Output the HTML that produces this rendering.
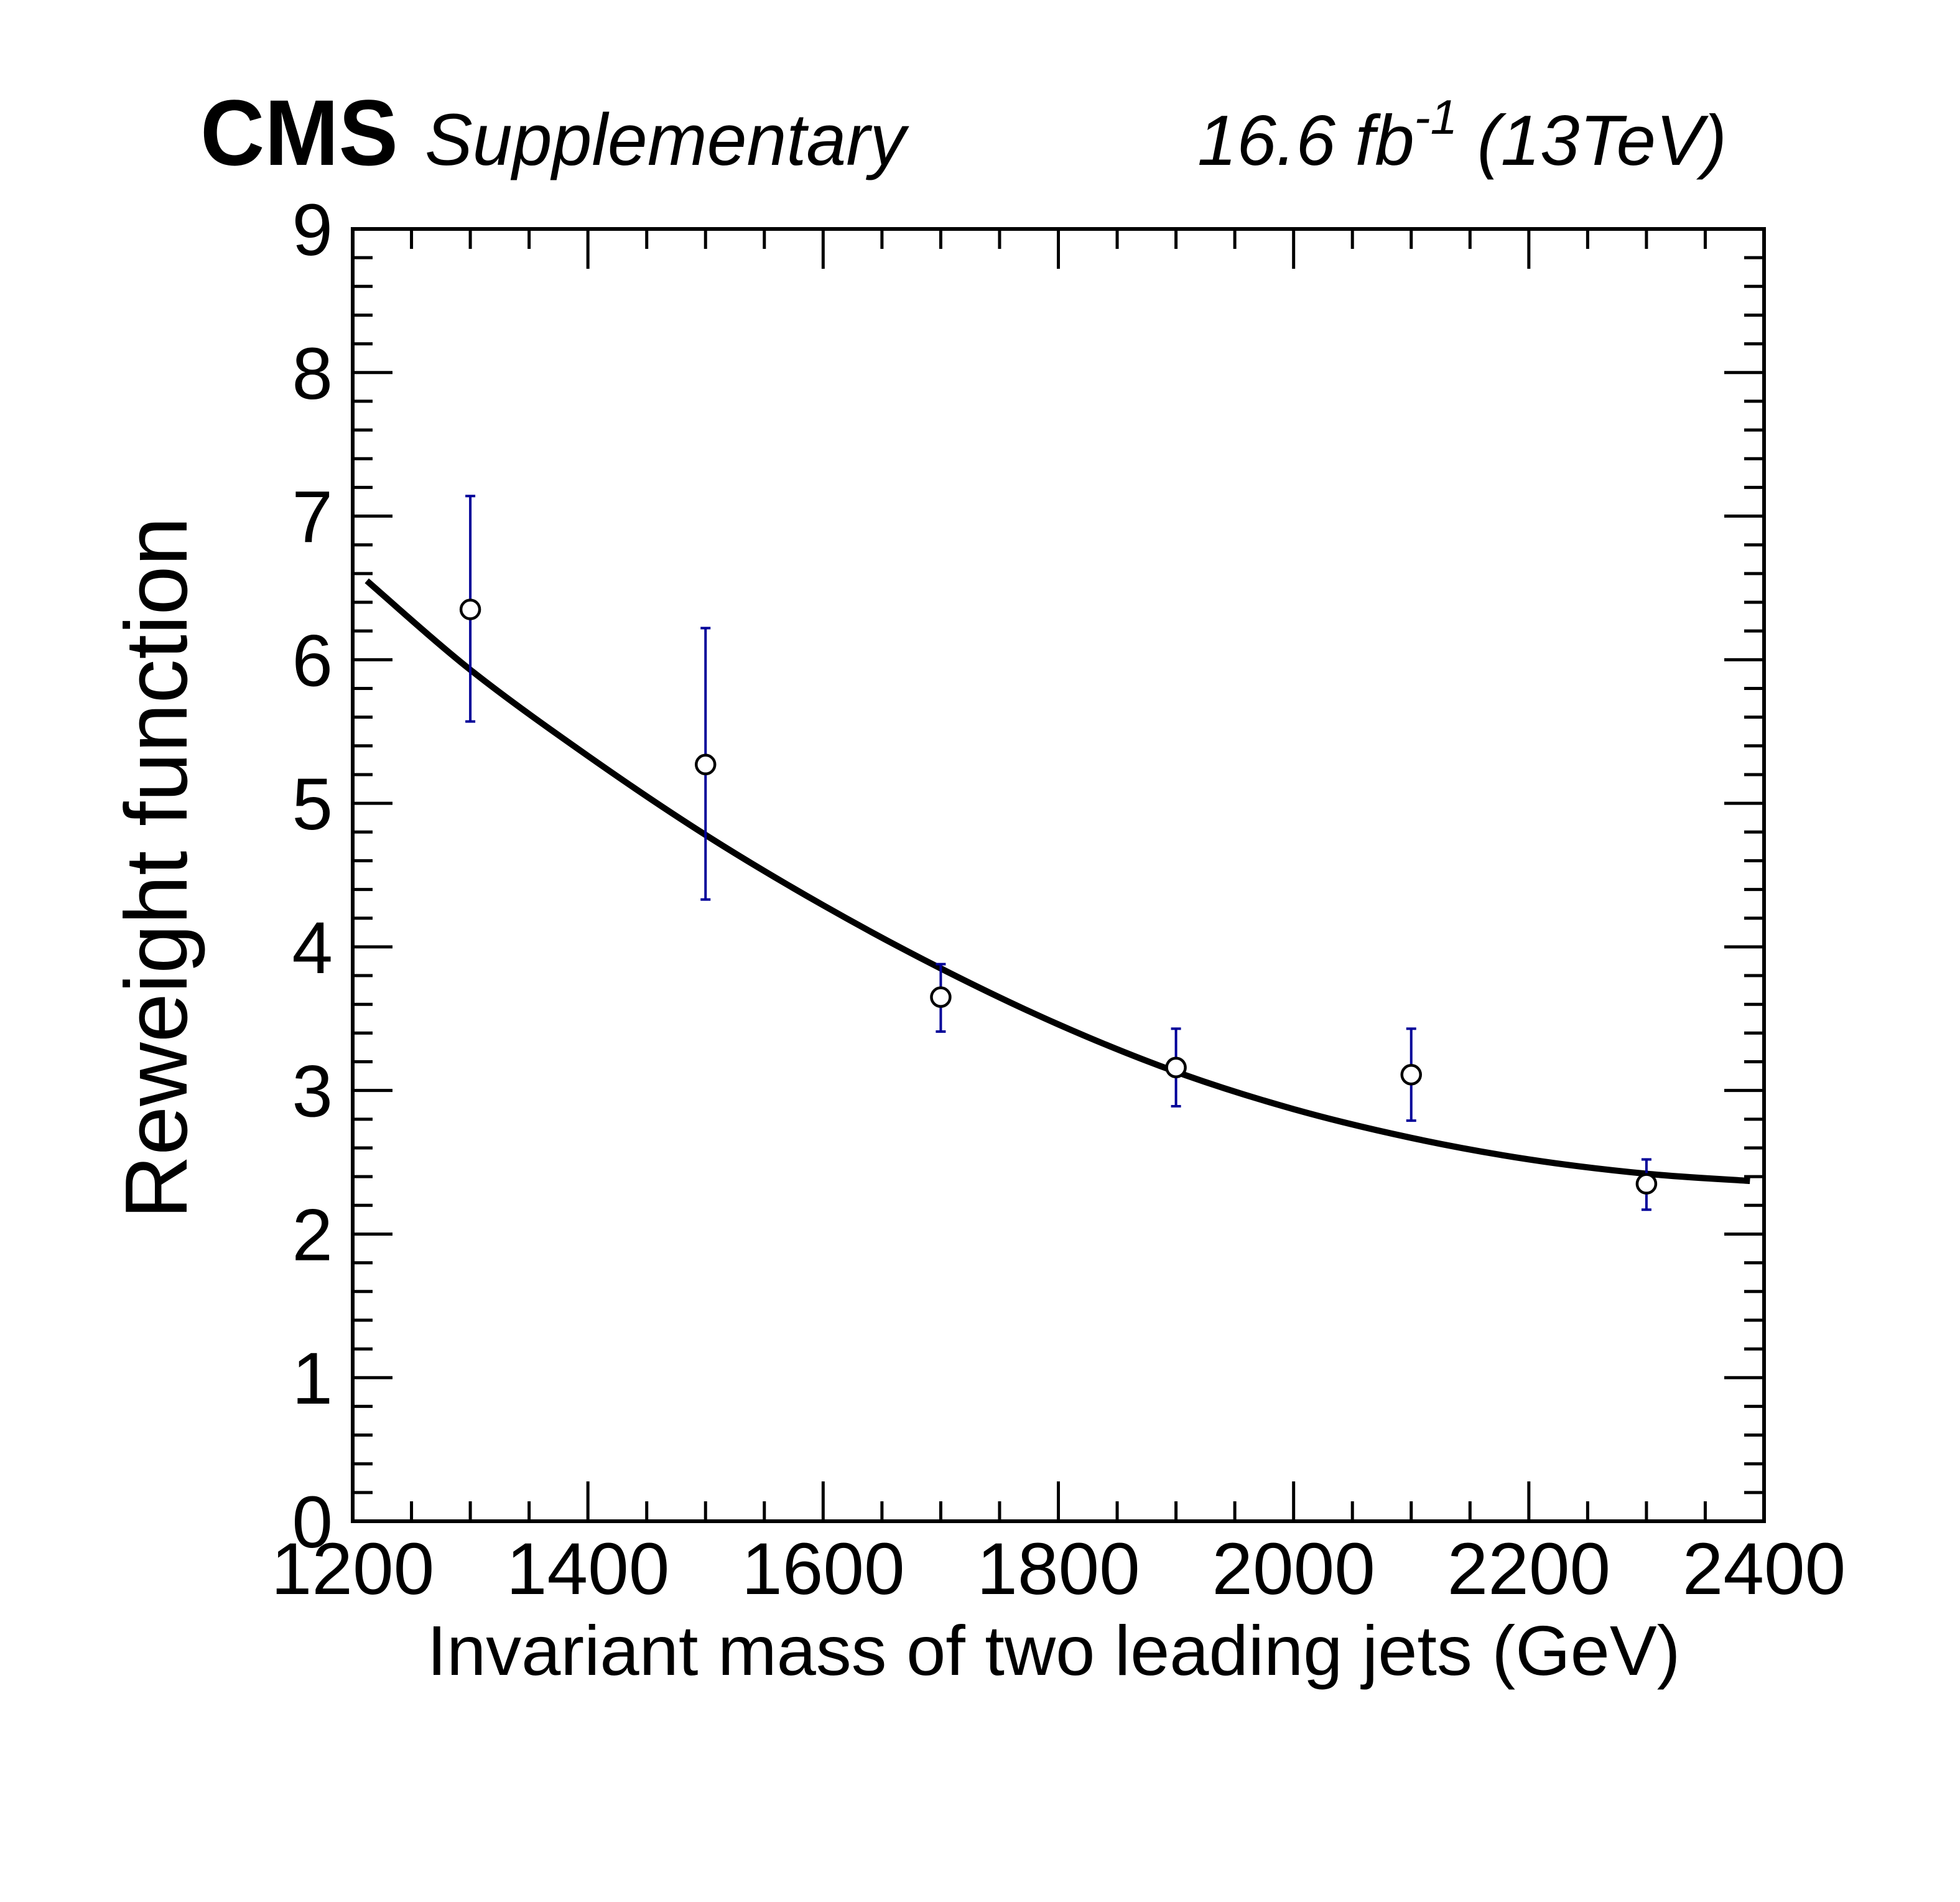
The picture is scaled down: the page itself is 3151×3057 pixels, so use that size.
<!DOCTYPE html>
<html><head><meta charset="utf-8"><style>
html,body{margin:0;padding:0;background:#fff;}
svg{display:block;font-family:"Liberation Sans",Arial,sans-serif;}
</style></head><body>
<svg id="chart" width="3151" height="3057" viewBox="0 0 3151 3057" xmlns="http://www.w3.org/2000/svg">
<rect width="3151" height="3057" fill="#fff"/>
<text x="322" y="265" font-size="150" font-weight="bold" textLength="318" lengthAdjust="spacingAndGlyphs">CMS</text>
<text x="683" y="265" font-size="118" font-style="italic" textLength="773" lengthAdjust="spacingAndGlyphs">Supplementary</text>
<text x="1925" y="265" font-size="114" font-style="italic">16.6 fb<tspan dy="-50" font-size="78">-1</tspan><tspan dy="50"> (13TeV)</tspan></text>
<g id="plot"></g>
<text transform="translate(300,1395) rotate(-90)" text-anchor="middle" font-size="142">Reweight function</text>
<text x="1694" y="2692" text-anchor="middle" font-size="113" textLength="2015" lengthAdjust="spacingAndGlyphs">Invariant mass of two leading jets (GeV)</text>
</svg>
<script>
const xCats = [1300, 1500, 1700, 1900, 2100, 2300];
const yVals = [6.35, 5.27, 3.65, 3.16, 3.11, 2.35];
const yLow = [5.57, 4.33, 3.41, 2.89, 2.79, 2.17];
const yHigh = [7.14, 6.22, 3.88, 3.43, 3.43, 2.52];
const fitX = [1212, 1300, 1400, 1500, 1600, 1700, 1800, 1900, 2000, 2100, 2200, 2300, 2388];
const fitY = [6.55, 5.93, 5.33, 4.78, 4.29, 3.85, 3.46, 3.13, 2.87, 2.67, 2.52, 2.42, 2.37];
const xTicks = [1200, 1400, 1600, 1800, 2000, 2200, 2400];
const yTicks = [0, 1, 2, 3, 4, 5, 6, 7, 8, 9];

const L=567, R=2836, T=368, B=2445;
const X0=1200, X1=2400, Y0=0, Y1=9;
const sx = v => L + (v - X0) / (X1 - X0) * (R - L);
const sy = v => B - (v - Y0) / (Y1 - Y0) * (B - T);
const NS = "http://www.w3.org/2000/svg";
const g = document.getElementById('plot');
function mk(tag, attrs){const e=document.createElementNS(NS,tag);for(const k in attrs)e.setAttribute(k,attrs[k]);g.appendChild(e);return e;}

let frame = mk('rect',{x:L,y:T,width:R-L,height:B-T,fill:'none',stroke:'#000','stroke-width':6});



for(let v=X0; v<=X1; v+=50){
  const major = v%200===0; const len = major?64:32; const x=sx(v);
  let t1=mk('line',{x1:x,x2:x,y1:B,y2:B-len,stroke:'#000','stroke-width':5});
  
  
  let t2=mk('line',{x1:x,x2:x,y1:T,y2:T+len,stroke:'#000','stroke-width':5});
  
  
}
xTicks.forEach(v=>{
  const t=mk('text',{x:sx(v),y:2562,'text-anchor':'middle','font-size':118});
  t.textContent=v;
  
  
});
for(let i=0;i<=45;i++){
  const v=i*0.2; const major=i%5===0; const len=major?64:32; const y=sy(v);
  let t1=mk('line',{x1:L,x2:L+len,y1:y,y2:y,stroke:'#000','stroke-width':5});
  
  
  let t2=mk('line',{x1:R,x2:R-len,y1:y,y2:y,stroke:'#000','stroke-width':5});
  
  
}
yTicks.forEach(v=>{
  const t=mk('text',{x:535,y:sy(v)+42,'text-anchor':'end','font-size':118});
  t.textContent=v;
  
  
});
// smooth fit curve (Catmull-Rom through fitted points)
const P = fitX.map((x,i)=>[sx(x), sy(fitY[i])]);
let d = 'M'+P[0][0]+','+P[0][1];
for(let i=0;i<P.length-1;i++){
  const p0=P[Math.max(0,i-1)], p1=P[i], p2=P[i+1], p3=P[Math.min(P.length-1,i+2)];
  const c1=[p1[0]+(p2[0]-p0[0])/6, p1[1]+(p2[1]-p0[1])/6];
  const c2=[p2[0]-(p3[0]-p1[0])/6, p2[1]-(p3[1]-p1[1])/6];
  d+=' C'+c1[0]+','+c1[1]+' '+c2[0]+','+c2[1]+' '+p2[0]+','+p2[1];
}
let curve = mk('path',{d:d,fill:'none',stroke:'#000','stroke-width':10,'stroke-linejoin':'round'});


xCats.forEach((xv,i)=>{
  const x=sx(xv);
  let e=mk('line',{x1:x,x2:x,y1:sy(yLow[i]),y2:sy(yHigh[i]),stroke:'#000099','stroke-width':4});
  
  
  [yLow[i],yHigh[i]].forEach(v=>{
    let c=mk('line',{x1:x-8,x2:x+8,y1:sy(v),y2:sy(v),stroke:'#000099','stroke-width':4});
    
    
  });
  let p=mk('circle',{cx:x,cy:sy(yVals[i]),r:15,fill:'#fff',stroke:'#000','stroke-width':4.5});
  
  
});
</script>
</body></html>
